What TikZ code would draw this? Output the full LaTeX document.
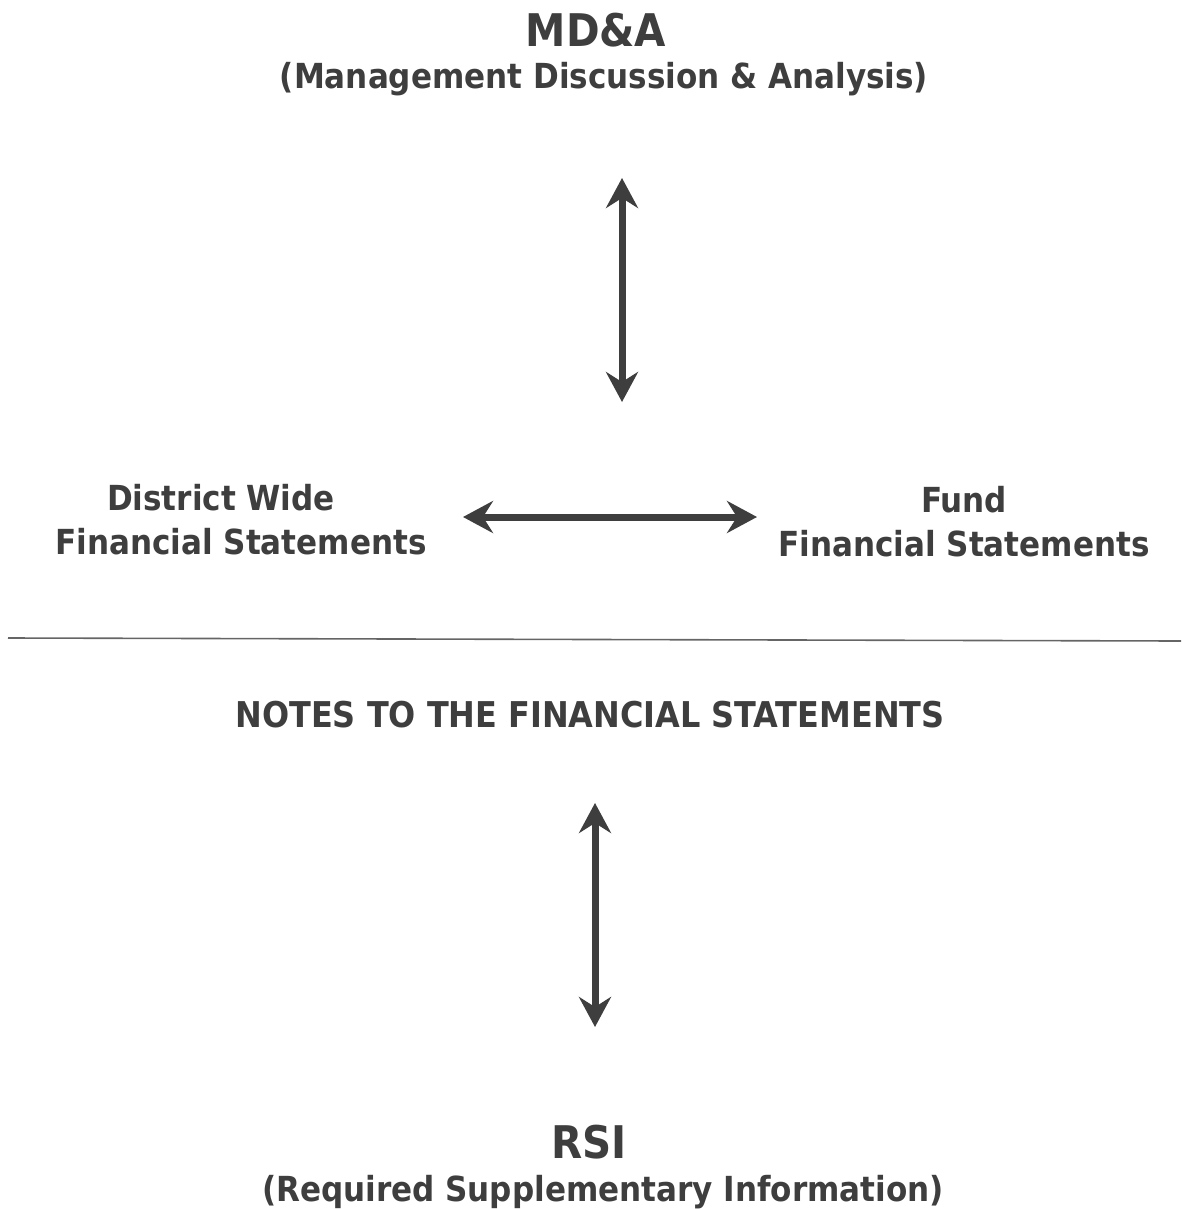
\documentclass[tikz,border=0pt]{standalone}
\usepackage{fontspec}
\setmainfont{DejaVu Sans Condensed}
\usetikzlibrary{arrows.meta}
\definecolor{ink}{HTML}{3E3E3E}
\begin{document}
\begin{tikzpicture}[x=1pt,y=-1pt,
  label/.style={text=ink,font=\bfseries,anchor=base,inner sep=0pt},
  title/.style={label,font=\bfseries\fontsize{45}{48}\selectfont},
  sub/.style={label,font=\bfseries\fontsize{34.5}{38}\selectfont},
  body/.style={label,font=\bfseries\fontsize{34.5}{38}\selectfont},
  caps/.style={label,font=\bfseries\fontsize{35.5}{38}\selectfont},
  link/.style={draw=ink,line width=7pt,
    {Stealth[length=30pt,width=32pt,inset=10pt]}-{Stealth[length=30pt,width=32pt,inset=10pt]}}]
\useasboundingbox (0,0) rectangle (1181,1209);

\node[title] (mda) at (596,47) {MD\&A};
\node[sub] (mdasub) at (604,89) {(Management Discussion \& Analysis)};

\coordinate (v1top) at (622,178);
\coordinate (v1bot) at (622,402);
\draw[link] (v1top) -- (v1bot);

\node[body] (dw1) at (221,510) {District Wide};
\node[body] (dw2) at (241,554) {Financial Statements};
\node[body] (fd1) at (964,512) {Fund};
\node[body] (fd2) at (964,556) {Financial Statements};

\coordinate (hl) at (463,517);
\coordinate (hr) at (757,517);
\draw[link] (hl) -- (hr);

\coordinate (rulel) at (8,638);
\coordinate (ruler) at (1181,641);
\draw[draw=ink!80,line width=1.6pt] (rulel) -- (ruler);

\node[caps] (notes) at (590,727) {NOTES TO THE FINANCIAL STATEMENTS};

\coordinate (v2top) at (595,803);
\coordinate (v2bot) at (595,1027);
\draw[link] (v2top) -- (v2bot);

\node[title] (rsi) at (589,1158) {RSI};
\node[sub] (rsisub) at (603,1201) {(Required Supplementary Information)};
\end{tikzpicture}
\end{document}
